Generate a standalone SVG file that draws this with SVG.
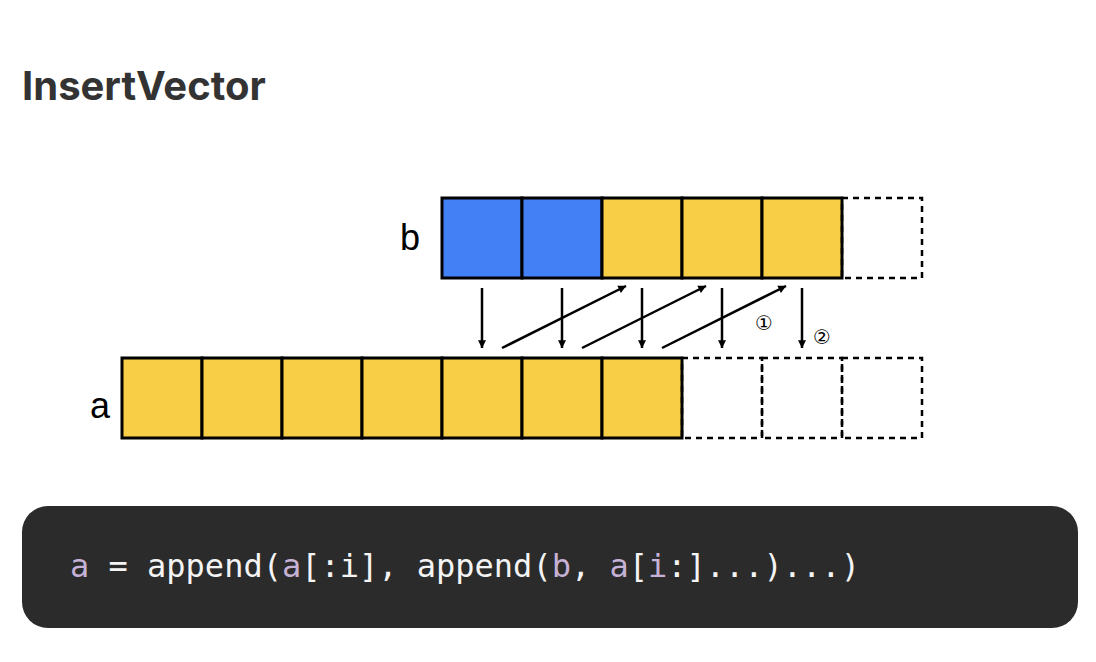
<svg xmlns="http://www.w3.org/2000/svg" width="1096" height="662" viewBox="0 0 1096 662">
<style>
.c{stroke:#000;stroke-width:3}
.y{fill:#f7ce46}.bl{fill:#4380f6}
.d{fill:none;stroke:#000;stroke-width:2.5;stroke-dasharray:6 5}
.l{font-family:"Liberation Sans",Arial,sans-serif;font-size:36px;fill:#000}
.code{font-family:"DejaVu Sans Mono",monospace;font-size:32px;fill:#f4f4f4}
.p{fill:#c6b2d6}
.ar{stroke:#000;stroke-width:2.5;fill:none;marker-end:url(#ah)}
</style>
<defs><marker id="ah" viewBox="0 0 10 10" refX="9" refY="5" markerWidth="5" markerHeight="5" orient="auto" markerUnits="userSpaceOnUse" style="overflow:visible"><path d="M0,0L10,5L0,10z" fill="#000" transform="scale(1.6) translate(-4,-1.9)"/></marker></defs>
<rect width="1096" height="662" fill="#fff"/>
<text x="22" y="100" font-family="Inter,'Liberation Sans',sans-serif" font-weight="700" font-size="40" fill="#333">InsertVector</text>
<g id="b">
<text class="l" x="400" y="250">b</text>
<rect class="c bl" x="442" y="198" width="80" height="80"/>
<rect class="c bl" x="522" y="198" width="80" height="80"/>
<rect class="c y" x="602" y="198" width="80" height="80"/>
<rect class="c y" x="682" y="198" width="80" height="80"/>
<rect class="c y" x="762" y="198" width="80" height="80"/>
<rect class="d" x="842" y="198" width="80" height="80"/>
</g>
<g id="a">
<text class="l" x="90" y="418">a</text>
<rect class="c y" x="122" y="358" width="80" height="80"/>
<rect class="c y" x="202" y="358" width="80" height="80"/>
<rect class="c y" x="282" y="358" width="80" height="80"/>
<rect class="c y" x="362" y="358" width="80" height="80"/>
<rect class="c y" x="442" y="358" width="80" height="80"/>
<rect class="c y" x="522" y="358" width="80" height="80"/>
<rect class="c y" x="602" y="358" width="80" height="80"/>
<rect class="d" x="682" y="358" width="80" height="80"/>
<rect class="d" x="762" y="358" width="80" height="80"/>
<rect class="d" x="842" y="358" width="80" height="80"/>
</g>
<g id="connectors">
<line class="ar" x1="482" y1="288" x2="482" y2="348"/>
<line class="ar" x1="562" y1="288" x2="562" y2="348"/>
<line class="ar" x1="642" y1="288" x2="642" y2="348"/>
<line class="ar" x1="722" y1="288" x2="722" y2="348"/>
<line class="ar" x1="802" y1="288" x2="802" y2="348"/>
<line class="ar" x1="502" y1="348" x2="626" y2="286"/>
<line class="ar" x1="582" y1="348" x2="706" y2="286"/>
<line class="ar" x1="662" y1="348" x2="786" y2="286"/>
<text x="764" y="330" font-family="'DejaVu Sans',sans-serif" font-size="20" text-anchor="middle">①</text>
<text x="822" y="344" font-family="'DejaVu Sans',sans-serif" font-size="20" text-anchor="middle">②</text>
</g>
<g id="code">
<rect x="22" y="506" width="1056" height="122" rx="26" fill="#2b2b2b"/>
<text class="code" x="70" y="577"><tspan class="p">a</tspan> = append(<tspan class="p">a</tspan>[:i], append(<tspan class="p">b</tspan>, <tspan class="p">a</tspan>[<tspan class="p">i</tspan>:]...)...)</text>
</g>
</svg>
